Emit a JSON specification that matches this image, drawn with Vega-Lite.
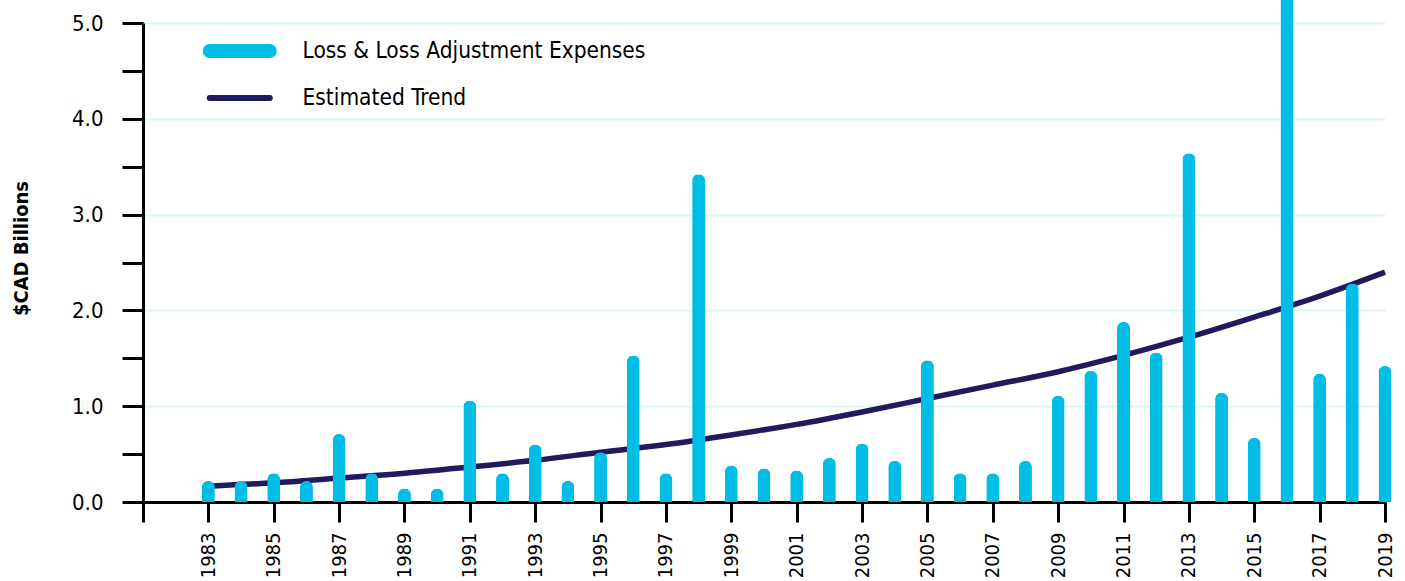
{
  "$schema": "https://vega.github.io/schema/vega-lite/v6.json",
  "width": 1242,
  "height": 479,
  "autosize": {"type": "none"},
  "padding": {"left": 143, "top": 23, "right": 20, "bottom": 79},
  "background": "white",
  "config": {"view": {"stroke": null}, "font": "DejaVu Sans Condensed, Liberation Sans, sans-serif"},
  "datasets": {
    "losses": [
      {"year": 1983, "value": 0.22}, {"year": 1984, "value": 0.22}, {"year": 1985, "value": 0.30},
      {"year": 1986, "value": 0.22}, {"year": 1987, "value": 0.71}, {"year": 1988, "value": 0.30},
      {"year": 1989, "value": 0.14}, {"year": 1990, "value": 0.14}, {"year": 1991, "value": 1.06},
      {"year": 1992, "value": 0.30}, {"year": 1993, "value": 0.60}, {"year": 1994, "value": 0.22},
      {"year": 1995, "value": 0.52}, {"year": 1996, "value": 1.53}, {"year": 1997, "value": 0.30},
      {"year": 1998, "value": 3.42}, {"year": 1999, "value": 0.38}, {"year": 2000, "value": 0.35},
      {"year": 2001, "value": 0.33}, {"year": 2002, "value": 0.46}, {"year": 2003, "value": 0.61},
      {"year": 2004, "value": 0.43}, {"year": 2005, "value": 1.48}, {"year": 2006, "value": 0.30},
      {"year": 2007, "value": 0.30}, {"year": 2008, "value": 0.43}, {"year": 2009, "value": 1.11},
      {"year": 2010, "value": 1.37}, {"year": 2011, "value": 1.88}, {"year": 2012, "value": 1.56},
      {"year": 2013, "value": 3.64}, {"year": 2014, "value": 1.14}, {"year": 2015, "value": 0.67},
      {"year": 2016, "value": 5.6}, {"year": 2017, "value": 1.34}, {"year": 2018, "value": 2.28},
      {"year": 2019, "value": 1.42}
    ],
    "trend": [
      {"year": 1983, "value": 0.165}, {"year": 1985, "value": 0.2}, {"year": 1987, "value": 0.25},
      {"year": 1989, "value": 0.3}, {"year": 1991, "value": 0.365}, {"year": 1993, "value": 0.435},
      {"year": 1995, "value": 0.52}, {"year": 1997, "value": 0.6}, {"year": 1999, "value": 0.7},
      {"year": 2001, "value": 0.81}, {"year": 2003, "value": 0.94}, {"year": 2005, "value": 1.08},
      {"year": 2007, "value": 1.22}, {"year": 2009, "value": 1.36}, {"year": 2011, "value": 1.53},
      {"year": 2013, "value": 1.72}, {"year": 2015, "value": 1.93}, {"year": 2017, "value": 2.15},
      {"year": 2019, "value": 2.4}
    ]
  },
  "layer": [
    {
      "data": {"name": "trend"},
      "mark": {"type": "line", "strokeWidth": 5.5, "interpolate": "monotone"},
      "encoding": {
        "x": {"field": "year", "type": "quantitative"},
        "y": {"field": "value", "type": "quantitative"},
        "color": {"datum": "Estimated Trend", "type": "nominal"}
      }
    },
    {
      "data": {"name": "losses"},
      "mark": {"type": "bar", "width": 13, "cornerRadiusTopLeft": 6.5, "cornerRadiusTopRight": 6.5},
      "encoding": {
        "x": {
          "field": "year", "type": "quantitative",
          "scale": {"domain": [1981, 2019], "nice": false, "zero": false, "padding": 0},
          "axis": {
            "values": [1981, 1983, 1985, 1987, 1989, 1991, 1993, 1995, 1997, 1999, 2001, 2003, 2005, 2007, 2009, 2011, 2013, 2015, 2017, 2019],
            "format": "d",
            "labelExpr": "datum.value === 1981 ? '' : datum.label",
            "labelAngle": -90, "labelAlign": "right", "labelBaseline": "middle",
            "labelPadding": 10, "labelFontSize": 20, "labelColor": "black",
            "labelFlush": false, "labelOverlap": false,
            "tickSize": 20, "tickWidth": 3, "tickColor": "black",
            "domainColor": "black", "domainWidth": 3,
            "title": null, "grid": false
          }
        },
        "y": {
          "field": "value", "type": "quantitative",
          "scale": {"domain": [0, 5], "nice": false, "padding": 0},
          "axis": {
            "values": [0, 0.5, 1, 1.5, 2, 2.5, 3, 3.5, 4, 4.5, 5],
            "labelExpr": "datum.value % 1 === 0 ? format(datum.value, '.1f') : ''",
            "labelFontSize": 22, "labelColor": "black", "labelPadding": 19,
            "tickSize": 21, "tickWidth": 3, "tickColor": "black",
            "domainColor": "black", "domainWidth": 3,
            "grid": true, "gridColor": "#DDF4FB", "gridWidth": 2,
            "gridOpacity": {"condition": {"test": "datum.value % 1 !== 0 || datum.value === 0", "value": 0}, "value": 1},
            "title": "$CAD Billions", "titleFontSize": 20, "titleFontWeight": "bold", "titleColor": "black",
            "titleX": -122, "titleY": 225, "titleAngle": -90, "titleAlign": "center", "titleBaseline": "middle"
          }
        },
        "color": {
          "datum": "Loss & Loss Adjustment Expenses", "type": "nominal",
          "scale": {"domain": ["Loss & Loss Adjustment Expenses", "Estimated Trend"], "range": ["#00BDE6", "#201A5E"]},
          "legend": {
            "title": null, "orient": "none", "legendX": 55, "legendY": 13, "padding": 0,
            "symbolType": "stroke", "symbolSize": 3600, "symbolOffset": 30.5, "clipHeight": 30, "rowPadding": 17,
            "labelFontSize": 22.5, "labelOffset": 51.5, "labelColor": "black", "labelLimit": 600,
            "encode": {
              "symbols": {
                "update": {
                  "strokeWidth": {"signal": "datum.value === 'Estimated Trend' ? 6 : 14"},
                  "strokeCap": {"value": "round"},
                  "stroke": {"scale": "color", "field": "value"},
                  "fill": {"value": "transparent"},
                  "opacity": {"value": 1}
                }
              }
            }
          }
        }
      }
    }
  ]
}
